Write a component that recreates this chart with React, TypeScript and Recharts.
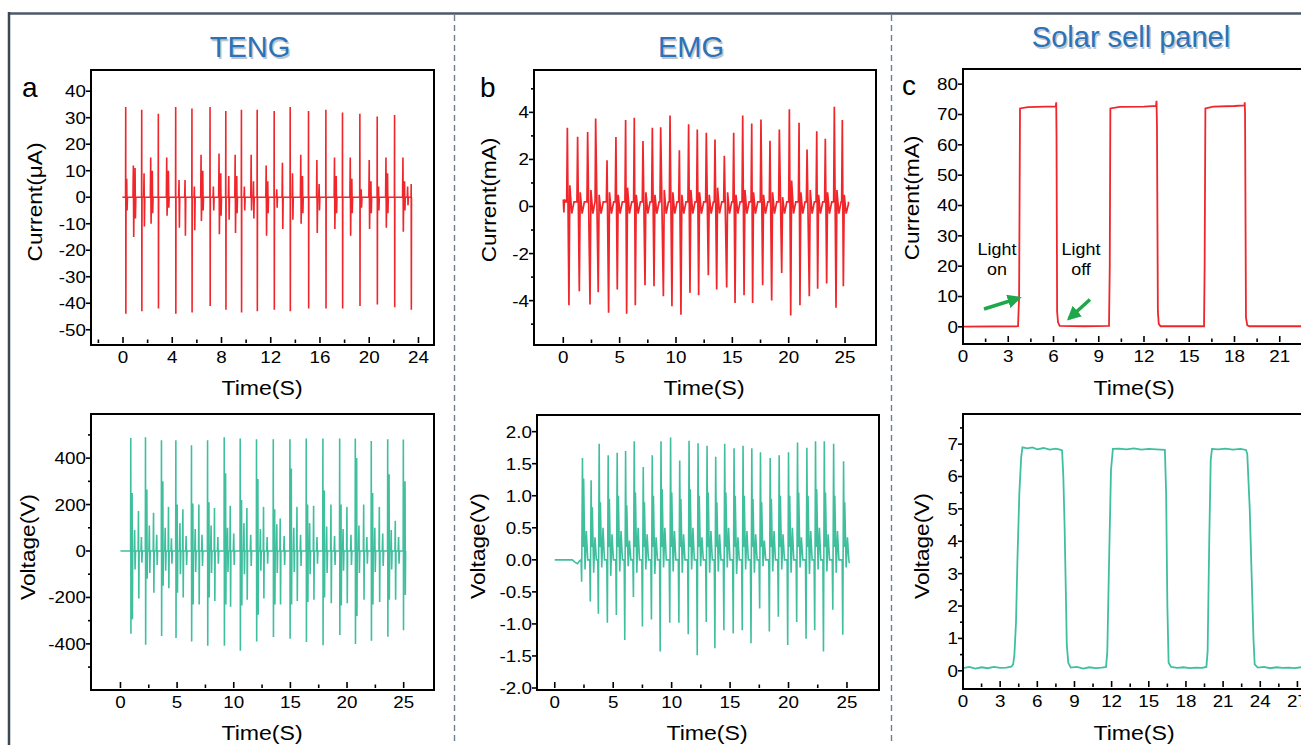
import React from 'react';
import { LineChart, Line, XAxis, YAxis } from 'recharts';

const FONT = "'Liberation Sans', Arial, Helvetica, sans-serif";
const RED = '#f0262b';
const TEAL = '#40bf9f';
const TITLE_BLUE = '#2b72b8';

// ---------- TENG current (µA): [time, max, min] ----------
const tengIBig: [number, number, number][] = [
  [0.22, 34, -44], [1.52, 33, -43], [2.87, 31.5, -42], [4.28, 34, -44], [5.6, 33.5, -43.5],
  [7.07, 34, -41], [8.35, 32.5, -42.5], [9.62, 33, -43.5], [10.9, 33, -43], [12.28, 32.5, -42.5],
  [13.58, 34, -43], [15.07, 32.5, -42], [16.48, 33, -42], [17.83, 32, -42], [19.24, 31.5, -41],
  [20.65, 30.5, -40.5], [22.06, 31, -41.5], [23.41, 5, -42.5],
];
const tengISub: [number, number, number][] = [
  [0.3, 7, -5], [0.84, 12, -15], [0.98, 11, -8], [1.71, 9, -11], [2.25, 15, -10], [2.38, 10, -6],
  [3.55, 15, -7], [3.69, 10, -4], [4.55, 6.5, -11.5], [5.04, 6.5, -14.5], [5.8, 4, -12.5],
  [6.34, 16, -9], [6.48, 10, -5], [7.34, 4, -5], [7.8, 16.5, -14], [7.94, 9, -7], [8.59, 8, -8.5],
  [9.11, 16, -13.5], [9.24, 8, -6], [9.86, 4, -5], [10.41, 16, -5], [10.6, 6, -8], [11.63, 12, -14.5],
  [11.76, 6, -6], [12.49, 3, -4], [12.95, 13, -12], [13.77, 9, -8.5], [14.44, 16, -10], [14.58, 8, -6],
  [15.75, 14, -13.5], [15.93, 5, -5], [17.18, 15, -12], [17.32, 8, -6], [18.46, 15, -14.5],
  [18.59, 7, -6], [19.35, 3, -4], [20.0, 14, -12], [20.14, 6, -6], [20.76, 4, -5], [21.36, 15, -11.5],
  [21.49, 9, -6], [22.74, 15, -13], [22.87, 6, -5], [23.12, 4, -3],
];
const tengIEnds: [number, number][] = [[-0.05, 0], [23.47, 0]];

// ---------- TENG voltage (V): [time, max, min] ----------
const tengVBig: [number, number, number][] = [
  [0.91, 487, -356], [2.21, 490, -404], [3.62, 477, -366], [4.89, 477, -375], [6.27, 455, -390],
  [7.69, 477, -408], [9.16, 490, -408], [10.57, 485, -430], [12.01, 481, -390], [13.49, 481, -370],
  [14.96, 481, -378], [16.4, 484, -392], [17.87, 484, -406], [19.35, 484, -362], [20.73, 484, -401],
  [22.14, 474, -387], [23.59, 481, -369], [24.97, 480, -341],
];
const tengVSec: [number, number, number][] = [
  [1.03, 250, -294], [2.33, 265, -120], [3.74, 300, -150], [5.01, 200, -180], [6.39, 205, -230],
  [7.81, 210, -200], [9.28, 335, -230], [10.69, 220, -235], [12.13, 310, -275], [13.61, 180, -230],
  [15.08, 355, -230], [16.52, 200, -220], [17.99, 260, -200], [19.47, 200, -235], [20.85, 400, -280],
  [22.26, 250, -230], [23.71, 330, -210], [25.12, 300, -190],
];
const tengVMid: [number, number, number][] = [
  [1.59, 172, -205], [2.92, 165, -180], [4.24, 190, -160], [5.51, 180, -200], [6.92, 200, -230],
  [8.3, 185, -215], [9.69, 195, -240], [11.16, 185, -210], [12.63, 190, -205], [14.1, 140, -230],
  [15.58, 190, -215], [17.05, 195, -210], [18.58, 200, -225], [19.99, 190, -225], [21.47, 200, -210],
  [22.85, 190, -220], [24.26, 130, -210],
];
const tengVSmall: [number, number, number][] = [
  [1.25, 90, -80], [1.85, 60, -50], [2.55, 110, -95], [3.2, 70, -60], [3.95, 100, -85], [4.5, 55, -55],
  [5.25, 120, -100], [5.8, 65, -60], [6.6, 95, -90], [7.2, 70, -65], [8.0, 110, -95], [8.6, 60, -55],
  [9.45, 100, -90], [10.0, 75, -60], [10.9, 120, -100], [11.5, 70, -65], [12.35, 95, -85], [12.95, 60, -55],
  [13.8, 115, -95], [14.45, 65, -60], [15.3, 100, -90], [15.9, 70, -65], [16.7, 120, -100], [17.35, 60, -55],
  [18.2, 105, -95], [18.9, 65, -60], [19.65, 95, -85], [20.35, 70, -60], [21.05, 110, -95], [21.75, 60, -55],
  [22.45, 100, -90], [23.15, 75, -65], [23.9, 90, -80], [24.55, 60, -55],
];
const tengVEnds: [number, number][] = [[0, 0], [25.2, 0]];

// ---------- EMG current (mA): [peakTime, peak, troughTime, trough, overshoot] ----------
const emgICycles: [number, number, number, number, number][] = [
  [0.36, 3.35, 0.5, -4.2, 0.9], [1.27, 2.96, 1.42, -3.6, 0.6], [2.16, 3.16, 2.37, -4.16, 0.7],
  [2.87, 3.74, 3.1, -3.64, 0.5], [3.88, 1.96, 4.02, -4.51, 0.6], [4.67, 2.95, 4.79, -3.53, 0.5],
  [5.53, 3.67, 5.62, -4.56, 0.8], [6.3, 3.77, 6.39, -4.2, 0.5], [7.07, 2.78, 7.25, -3.35, 0.6],
  [7.9, 3.35, 8.05, -3.39, 0.5], [8.64, 3.37, 8.88, -3.81, 0.7], [9.47, 3.87, 9.64, -4.24, 0.6],
  [10.3, 2.39, 10.44, -4.6, 0.5], [11.12, 3.49, 11.24, -3.67, 0.7], [11.89, 3.27, 12.01, -3.77, 0.6],
  [12.69, 3.13, 12.87, -2.92, 0.5], [13.46, 2.85, 13.61, -3.53, 0.8], [14.29, 2.16, 14.5, -3.44, 0.6],
  [15.12, 3.13, 15.24, -4.1, 0.5], [15.92, 3.87, 16.04, -3.77, 0.7], [16.72, 3.53, 16.8, -4.1, 0.6],
  [17.54, 3.7, 17.69, -3.35, 0.5], [18.34, 2.79, 18.49, -3.99, 0.6], [19.17, 3.27, 19.38, -2.82, 0.4],
  [20.06, 4.13, 20.18, -4.63, 1.1], [20.92, 3.56, 21.0, -4.2, 0.6], [21.63, 2.42, 21.83, -3.81, 0.7],
  [22.49, 3.2, 22.57, -3.49, 0.5], [23.25, 2.88, 23.37, -3.27, 0.6], [24.05, 4.24, 24.2, -4.3, 0.7],
  [24.76, 3.67, 24.85, -3.39, 0.5],
];
const emgIEnds: [number, number][] = [[0, 0.3], [0.05, -0.25], [0.1, 0.3], [0.2, 0.2], [25.3, 0.1]];

// ---------- EMG voltage (V): [peakTime, trough, peak, secondary, ringA, ringB] ----------
const emgVCycles: [number, number, number, number, number, number][] = [
  [2.37, -0.34, 1.59, 1.27, -0.15, 0.45], [3.11, -0.65, 1.24, 0.82, -0.2, 0.35],
  [3.8, -0.84, 1.81, 0.9, -0.12, 0.5], [4.57, -0.98, 1.63, 0.95, -0.25, 0.4],
  [5.34, -0.86, 1.67, 1.0, -0.18, 0.45], [6.06, -1.25, 1.7, 0.85, -0.1, 0.3],
  [6.8, -0.58, 1.85, 1.05, -0.2, 0.5], [7.57, -1.04, 1.45, 0.9, -0.15, 0.4],
  [8.34, -0.93, 1.63, 1.0, -0.22, 0.35], [9.09, -1.43, 1.85, 1.1, -0.12, 0.5],
  [9.91, -0.98, 1.91, 1.05, -0.18, 0.45], [10.69, -0.98, 1.55, 0.95, -0.2, 0.4],
  [11.49, -1.16, 1.86, 1.1, -0.15, 0.5], [12.26, -1.49, 1.82, 1.0, -0.1, 0.35],
  [13.03, -0.97, 1.78, 1.05, -0.2, 0.45], [13.77, -1.38, 1.61, 0.9, -0.18, 0.4],
  [14.54, -1.1, 1.81, 1.05, -0.12, 0.5], [15.34, -1.15, 1.74, 1.0, -0.22, 0.35],
  [16.11, -1.1, 1.78, 1.0, -0.15, 0.45], [16.86, -1.3, 1.74, 0.95, -0.2, 0.4],
  [17.6, -0.76, 1.68, 0.9, -0.1, 0.3], [18.43, -1.12, 1.59, 0.95, -0.18, 0.45],
  [19.2, -0.89, 1.63, 1.0, -0.15, 0.4], [20.0, -1.33, 1.68, 1.0, -0.2, 0.5],
  [20.77, -0.97, 1.83, 1.05, -0.12, 0.35], [21.57, -1.23, 1.75, 1.0, -0.22, 0.45],
  [22.31, -1.1, 1.85, 1.1, -0.15, 0.5], [23.06, -1.43, 1.85, 1.05, -0.18, 0.4],
  [23.86, -0.78, 1.81, 1.0, -0.2, 0.45], [24.71, -1.17, 1.54, 0.9, -0.12, 0.35],
];
const emgVEnds: [number, number][] = [[0, 0], [1.5, 0], [1.75, -0.04], [1.95, -0.06], [2.1, -0.02], [25.2, -0.05]];

// ---------- Solar panel current (mA) ----------
const solarI: [number, number][] = [
  [0, 0.1], [3.65, 0.2], [3.72, 10], [3.78, 72.0], [4.3, 72.4], [5.5, 72.6], [6.15, 72.6], [6.18, 74],
  [6.2, 63], [6.24, 5], [6.3, 1.5], [6.41, 0.3], [8, 0.2], [9.68, 0.3], [9.73, 20], [9.77, 72.0],
  [10.4, 72.5], [12.0, 72.6], [12.8, 72.8], [12.83, 74.5], [12.86, 66], [12.92, 5], [12.98, 1],
  [13.1, 0.2], [15.98, 0.2], [16.02, 20], [16.07, 72.0], [16.6, 72.6], [18.0, 72.8], [18.66, 73],
  [18.68, 74], [18.7, 70], [18.76, 3], [18.85, 0.5], [19.0, 0.2], [24.5, 0.2],
];

// ---------- Solar panel voltage (V) ----------
const solarV: [number, number][] = [
  [0, 0.08], [0.5, 0.12], [1, 0.07], [1.5, 0.11], [2, 0.08], [2.5, 0.12], [3, 0.09], [3.5, 0.1],
  [3.9, 0.13], [4.05, 0.2], [4.15, 0.5], [4.28, 1.5], [4.4, 3.5], [4.55, 5.5], [4.7, 6.6], [4.8, 6.9],
  [5.2, 6.87], [5.6, 6.9], [6.0, 6.84], [6.5, 6.88], [7.0, 6.83], [7.5, 6.86], [7.9, 6.82], [8.0, 6.8],
  [8.1, 6.0], [8.2, 4.5], [8.3, 2.5], [8.38, 0.8], [8.5, 0.25], [8.7, 0.1], [9.2, 0.12], [9.7, 0.07],
  [10.2, 0.11], [10.7, 0.08], [11.2, 0.1], [11.55, 0.12], [11.65, 0.6], [11.8, 3.5], [11.95, 6.2],
  [12.1, 6.85], [12.6, 6.86], [13.2, 6.84], [13.8, 6.87], [14.4, 6.83], [15.0, 6.85], [15.6, 6.84],
  [16.3, 6.82], [16.4, 5.5], [16.5, 2.0], [16.6, 0.25], [16.8, 0.12], [17.3, 0.09], [17.8, 0.11],
  [18.3, 0.08], [18.8, 0.1], [19.3, 0.09], [19.65, 0.12], [19.75, 0.6], [19.88, 4.0], [20.0, 6.5],
  [20.1, 6.85], [20.6, 6.84], [21.2, 6.86], [21.8, 6.83], [22.4, 6.85], [22.85, 6.82], [22.95, 6.7],
  [23.15, 5.0], [23.3, 3.0], [23.45, 1.0], [23.55, 0.2], [23.8, 0.1], [24.3, 0.12], [24.8, 0.08],
  [25.3, 0.11], [25.8, 0.09], [26.3, 0.1], [26.8, 0.08], [27.3, 0.11], [28.0, 0.09], [28.5, 0.1],
];

// ---------- tick values ----------
const aTopXTicks = [-2, 0, 2, 4, 6, 8, 10, 12, 14, 16, 18, 20, 22, 24];
const aTopXMajor = [0, 4, 8, 12, 16, 20, 24];
const aTopYTicks = [-50, -40, -30, -20, -10, 0, 10, 20, 30, 40];
const xTicks25 = [0, 2.5, 5, 7.5, 10, 12.5, 15, 17.5, 20, 22.5, 25];
const xMajor25 = [0, 5, 10, 15, 20, 25];
const aBotYTicks = [-500, -400, -300, -200, -100, 0, 100, 200, 300, 400, 500];
const aBotYMajor = [-400, -200, 0, 200, 400];
const bTopYTicks = [-5, -4, -3, -2, -1, 0, 1, 2, 3, 4, 5];
const bTopYMajor = [-4, -2, 0, 2, 4];
const bBotYTicks = [-2, -1.5, -1, -0.5, 0, 0.5, 1, 1.5, 2];
const cTopXTicks = [0, 1.5, 3, 4.5, 6, 7.5, 9, 10.5, 12, 13.5, 15, 16.5, 18, 19.5, 21];
const cTopXMajor = [0, 3, 6, 9, 12, 15, 18, 21];
const cTopYTicks = [0, 10, 20, 30, 40, 50, 60, 70, 80];
const cBotXTicks = [0, 1.5, 3, 4.5, 6, 7.5, 9, 10.5, 12, 13.5, 15, 16.5, 18, 19.5, 21, 22.5, 24, 25.5, 27];
const cBotXMajor = [0, 3, 6, 9, 12, 15, 18, 21, 24, 27];
const cBotYTicks = [0, 0.5, 1, 1.5, 2, 2.5, 3, 3.5, 4, 4.5, 5, 5.5, 6, 6.5, 7, 7.5];
const cBotYMajor = [0, 1, 2, 3, 4, 5, 6, 7];

// ---------- build helpers ----------
type Pt = { t: number; y: number };
const byTime = (a: Pt[]) => [...a].sort((p, q) => p.t - q.t);
const pairs = (arr: [number, number][]): Pt[] => arr.map(([t, y]) => ({ t, y }));
const spikes = (arr: [number, number, number][], w: number): Pt[] =>
  arr.flatMap(([t, hi, lo]) => [
    { t: t - w, y: 0 }, { t, y: hi }, { t: t + w, y: lo }, { t: t + 2 * w, y: 0 },
  ]);

const tengIData = byTime([...pairs(tengIEnds), ...spikes(tengIBig, 0.012), ...spikes(tengISub, 0.03)]);
const tengVData = byTime([
  ...pairs(tengVEnds), ...spikes(tengVBig, 0.015), ...spikes(tengVSec, 0.025),
  ...spikes(tengVMid, 0.03), ...spikes(tengVSmall, 0.04),
]);
const emgIData = byTime([
  ...pairs(emgIEnds),
  ...emgICycles.flatMap(([pt, pv, nt, nv, ov]) => [
    { t: pt - 0.06, y: 0.2 }, { t: pt, y: pv }, { t: nt, y: nv }, { t: nt + 0.08, y: ov },
    { t: nt + 0.25, y: -0.3 }, { t: nt + 0.45, y: 0.2 },
  ]),
]);
const emgVData = byTime([
  ...pairs(emgVEnds),
  ...emgVCycles.flatMap(([t, lo, hi, sec, ra, rb]) => [
    { t: t - 0.12, y: 0 }, { t: t - 0.07, y: lo }, { t, y: hi }, { t: t + 0.05, y: 0.2 },
    { t: t + 0.1, y: sec }, { t: t + 0.22, y: ra }, { t: t + 0.33, y: rb }, { t: t + 0.45, y: 0 },
  ]),
]);
const solarIData = pairs(solarI);
const solarVData = pairs(solarV);

// ---------- ticks ----------
const isIn = (arr: number[] | undefined, v: number) => !arr || arr.some((m) => Math.abs(m - v) < 1e-6);
const TICK_FS = 16.5;
const TICK_SX = 1.14;

const makeXTick = (majors?: number[]) => (props: any) => {
  const { x, y, payload } = props;
  const major = isIn(majors, payload.value);
  return (
    <g>
      <line x1={x} x2={x} y1={y} y2={y - (major ? 6 : 3.5)} stroke="#000" strokeWidth={1.6} />
      {major && (
        <text transform={`translate(${x},${y + 20}) scale(${TICK_SX},1)`} textAnchor="middle"
          fontSize={TICK_FS} fontFamily={FONT} fill="#000">
          {String(payload.value)}
        </text>
      )}
    </g>
  );
};
const makeYTick = (majors?: number[], fmt: (v: number) => string = (v) => String(v)) => (props: any) => {
  const { x, y, payload } = props;
  const major = isIn(majors, payload.value);
  return (
    <g>
      <line x1={x} x2={x - (major ? 5 : 3)} y1={y} y2={y} stroke="#000" strokeWidth={1.6} />
      {major && (
        <text transform={`translate(${x - 5},${y}) scale(${TICK_SX},1)`} dy="0.36em" textAnchor="end"
          fontSize={TICK_FS} fontFamily={FONT} fill="#000">
          {fmt(payload.value)}
        </text>
      )}
    </g>
  );
};

type Box = { l: number; t: number; r: number; b: number };
type PanelProps = {
  box: Box; xDomain: [number, number]; yDomain: [number, number];
  xTicks: number[]; xMajor?: number[]; yTicks: number[]; yMajor?: number[];
  yFmt?: (v: number) => string; data: Pt[]; color: string; sw: number;
};

function Panel({ box, xDomain, yDomain, xTicks, xMajor, yTicks, yMajor, yFmt, data, color, sw }: PanelProps) {
  const YW = 70, XH = 40, MT = 10, MR = 10;
  const width = box.r - box.l + YW + MR;
  const height = box.b - box.t + MT + XH;
  return (
    <div style={{ position: 'absolute', left: box.l - YW, top: box.t - MT }}>
      <LineChart width={width} height={height} data={data} margin={{ top: MT, right: MR, left: 0, bottom: 0 }}>
        <XAxis dataKey="t" type="number" domain={xDomain} allowDataOverflow ticks={xTicks} interval={0}
          tickSize={0} tickMargin={0} tickLine={false} axisLine={false} tick={makeXTick(xMajor)} height={XH} />
        <YAxis type="number" domain={yDomain} allowDataOverflow ticks={yTicks} interval={0}
          tickSize={0} tickMargin={0} tickLine={false} axisLine={false} tick={makeYTick(yMajor, yFmt)} width={YW} />
        <Line dataKey="y" type="linear" stroke={color} strokeWidth={sw} dot={false} isAnimationActive={false} />
      </LineChart>
      <div style={{
        position: 'absolute', left: YW - 1, top: MT - 1, width: box.r - box.l, height: box.b - box.t,
        border: '2px solid #000', boxSizing: 'content-box', pointerEvents: 'none',
      }} />
    </div>
  );
}

const Title = ({ x, y, text }: { x: number; y: number; text: string }) => (
  <g fontFamily={FONT} fontSize={29} textAnchor="middle">
    <text x={x + 1.5} y={y + 2} fill="#8c97a3" opacity={0.55}>{text}</text>
    <text x={x} y={y} fill={TITLE_BLUE}>{text}</text>
  </g>
);
const AxisTitleX = ({ x, y, text }: { x: number; y: number; text: string }) => (
  <text transform={`translate(${x},${y}) scale(1.1,1)`} textAnchor="middle" fontFamily={FONT} fontSize={21} fill="#000">{text}</text>
);
const AxisTitleY = ({ x, y, text }: { x: number; y: number; text: string }) => (
  <text transform={`translate(${x},${y}) rotate(-90) scale(1.08,1)`} dy="0.36em" textAnchor="middle" fontFamily={FONT} fontSize={21} fill="#000">{text}</text>
);
const Letter = ({ x, y, text }: { x: number; y: number; text: string }) => (
  <text x={x} y={y} fontFamily={FONT} fontSize={28} fill="#000">{text}</text>
);

const GREEN = '#1fa84b';

export default function App() {
  return (
    <div style={{ position: 'fixed', left: 0, top: 0, width: 1301, height: 745, overflow: 'hidden', background: '#fff' }}>
      <Panel box={{ l: 91, t: 70, r: 432, b: 343 }} xDomain={[-2.6, 25.1]} yDomain={[-55, 48]}
        xTicks={aTopXTicks} xMajor={aTopXMajor} yTicks={aTopYTicks} data={tengIData} color={RED} sw={1.6} />
      <Panel box={{ l: 91, t: 414, r: 432, b: 688 }} xDomain={[-2.6, 27.5]} yDomain={[-590, 590]}
        xTicks={xTicks25} xMajor={xMajor25} yTicks={aBotYTicks} yMajor={aBotYMajor} data={tengVData} color={TEAL} sw={1.6} />
      <Panel box={{ l: 534, t: 70, r: 874, b: 343 }} xDomain={[-2.6, 27.57]} yDomain={[-5.8, 5.8]}
        xTicks={xTicks25} xMajor={xMajor25} yTicks={bTopYTicks} yMajor={bTopYMajor} data={emgIData} color={RED} sw={1.7} />
      <Panel box={{ l: 537, t: 415, r: 877, b: 688 }} xDomain={[-1.52, 27.57]} yDomain={[-2.0, 2.26]}
        xTicks={xTicks25} xMajor={xMajor25} yTicks={bBotYTicks} yFmt={(v) => v.toFixed(1)} data={emgVData} color={TEAL} sw={1.6} />
      <Panel box={{ l: 963, t: 69, r: 1325, b: 342 }} xDomain={[0, 24]} yDomain={[-5, 85]}
        xTicks={cTopXTicks} xMajor={cTopXMajor} yTicks={cTopYTicks} data={solarIData} color={RED} sw={1.8} />
      <Panel box={{ l: 963, t: 414, r: 1316, b: 687 }} xDomain={[0, 28.5]} yDomain={[-0.5, 7.93]}
        xTicks={cBotXTicks} xMajor={cBotXMajor} yTicks={cBotYTicks} yMajor={cBotYMajor} data={solarVData} color={TEAL} sw={1.8} />

      <svg width={1301} height={745} style={{ position: 'absolute', left: 0, top: 0, pointerEvents: 'none' }}>
        <defs>
          <marker id="ah" viewBox="0 0 10 10" refX="8" refY="5" markerWidth="4" markerHeight="4" orient="auto">
            <path d="M0,0 L10,5 L0,10 z" fill={GREEN} />
          </marker>
        </defs>
        <line x1={9} y1={13.5} x2={1301} y2={13.5} stroke="#4d5a68" strokeWidth={2.5} />
        <line x1={9} y1={12} x2={9} y2={745} stroke="#3d4855" strokeWidth={2.5} />
        <line x1={454.5} y1={15} x2={454.5} y2={745} stroke="#6e7e90" strokeWidth={1.4} strokeDasharray="6 4" />
        <line x1={891.5} y1={15} x2={891.5} y2={745} stroke="#6e7e90" strokeWidth={1.4} strokeDasharray="6 4" />

        <Title x={250} y={57} text="TENG" />
        <Title x={691} y={57} text="EMG" />
        <Title x={1131} y={47} text="Solar sell panel" />

        <Letter x={22} y={97} text="a" />
        <Letter x={480} y={97} text="b" />
        <Letter x={902} y={95} text="c" />

        <AxisTitleY x={34} y={202} text="Current(μA)" />
        <AxisTitleX x={262} y={395} text="Time(S)" />
        <AxisTitleY x={27} y={547} text="Voltage(V)" />
        <AxisTitleX x={262} y={740} text="Time(S)" />
        <AxisTitleY x={488} y={200} text="Current(mA)" />
        <AxisTitleX x={704} y={395} text="Time(S)" />
        <AxisTitleY x={477} y={546} text="Voltage(V)" />
        <AxisTitleX x={707} y={740} text="Time(S)" />
        <AxisTitleY x={911} y={198} text="Current(mA)" />
        <AxisTitleX x={1134} y={395} text="Time(S)" />
        <AxisTitleY x={921} y={546} text="Voltage(V)" />
        <AxisTitleX x={1134} y={740} text="Time(S)" />

        <g fontFamily={FONT} fontSize={16} textAnchor="middle" fill="#000">
          <text transform="translate(997,255) scale(1.12,1)">Light</text>
          <text transform="translate(997,275) scale(1.12,1)">on</text>
          <text transform="translate(1081,255) scale(1.12,1)">Light</text>
          <text transform="translate(1081,275) scale(1.12,1)">off</text>
        </g>
        <line x1={984} y1={309} x2={1019} y2={298} stroke={GREEN} strokeWidth={3.5} markerEnd="url(#ah)" />
        <line x1={1090} y1={299.5} x2={1069} y2={318.5} stroke={GREEN} strokeWidth={3.5} markerEnd="url(#ah)" />
      </svg>
    </div>
  );
}
